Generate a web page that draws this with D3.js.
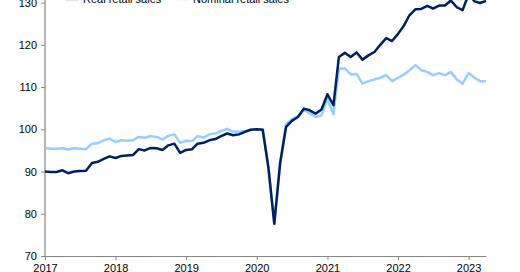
<!DOCTYPE html>
<html>
<head>
<meta charset="utf-8">
<script src="https://cdn.jsdelivr.net/npm/d3@7"></script>
<style>
  html, body { margin: 0; padding: 0; background: #fff; }
  svg { display: block; font-family: Arial, "Liberation Sans", sans-serif; }
</style>
</head>
<body>
<div id="chart"></div>
<script>
// monthly index, Jan 2017 .. Apr 2023
const startMonth = new Date(2017, 0, 1);
const endMonth = new Date(2023, 3, 1);

const realSales = [
  90.0, 89.9, 89.9, 90.3, 89.6, 90.0, 90.1, 90.2, 92.0, 92.3, 93.0, 93.6,
  93.2, 93.7, 93.8, 93.9, 95.3, 95.0, 95.6, 95.5, 95.1, 96.2, 96.6, 94.4,
  95.1, 95.3, 96.6, 96.8, 97.4, 97.7, 98.4, 99.0, 98.6, 98.8, 99.4, 99.9,
  100.0, 99.9, 91.1, 77.6, 91.9, 100.6, 102.0, 102.9, 104.9, 104.5, 103.7, 104.7,
  108.3, 105.7, 117.1, 118.1, 117.1, 118.2, 116.5, 117.5, 118.3, 120.0, 121.6, 120.9,
  122.6, 124.6, 127.0, 128.4, 128.5, 129.2, 128.6, 129.3, 129.3, 130.5, 128.9, 128.2,
  132.0, 130.3, 129.9, 130.4
];

const nominalSales = [
  95.6, 95.4, 95.4, 95.5, 95.2, 95.5, 95.4, 95.3, 96.6, 96.7, 97.4, 97.8,
  97.0, 97.4, 97.3, 97.4, 98.2, 98.0, 98.4, 98.2, 97.6, 98.45, 98.8, 96.8,
  97.3, 97.2, 98.4, 98.05, 98.8, 99.0, 99.6, 100.1, 99.4, 99.4, 99.6, 99.9,
  99.9, 100.0, 91.3, 77.8, 92.2, 101.2, 102.4, 103.0, 104.6, 103.8, 102.9, 103.3,
  107.2, 103.6, 114.4, 114.4, 113.0, 113.1, 110.8, 111.4, 111.8, 112.2, 112.8, 111.4,
  112.2, 113.0, 114.0, 115.2, 114.0, 113.6, 112.8, 113.3, 112.8, 113.6, 111.8, 110.8,
  113.3, 112.2, 111.4, 111.4
];

const seriesNames = ['Real retail sales', 'Nominal retail sales'];
const yTicks = [70, 80, 90, 100, 110, 120, 130];

const width = 520, height = 272;
const margin = { left: 45, right: 34, top: 2.6, bottom: 16 };

const months = realSales.map((d, i) => new Date(2017, i, 1));

const svg = d3.select('#chart')
  .append('svg')
  .attr('width', width)
  .attr('height', height);

const x = d3.scaleTime()
  .domain([startMonth, endMonth])
  .range([margin.left, width - margin.right]);

const y = d3.scaleLinear()
  .domain([70, 130])
  .range([height - margin.bottom, margin.top]);

const axisColor = '#868686';

// y axis
svg.append('g')
  .attr('transform', `translate(${margin.left},0)`)
  .call(d3.axisLeft(y).tickValues(yTicks).tickSize(4).tickSizeOuter(0).tickPadding(4))
  .call(g => g.select('.domain').remove())
  .call(g => g.selectAll('.tick line').attr('stroke', axisColor))
  .call(g => g.selectAll('.tick text').attr('fill', '#000').style('font-size', '11px'));

svg.append('line')
  .attr('x1', margin.left).attr('x2', margin.left)
  .attr('y1', 0).attr('y2', y(70))
  .attr('stroke', axisColor)
  .attr('stroke-width', 1.2);

// x axis
svg.append('g')
  .attr('transform', `translate(0,${y(70)})`)
  .call(d3.axisBottom(x).ticks(d3.timeYear.every(1)).tickFormat(d3.timeFormat('%Y')).tickSize(4).tickSizeOuter(0).tickPadding(4))
  .call(g => g.select('.domain').attr('stroke', axisColor).attr('stroke-width', 1.2))
  .call(g => g.selectAll('.tick line').attr('stroke', axisColor))
  .call(g => g.selectAll('.tick text').attr('fill', '#000').style('font-size', '11px'));

const line = d3.line()
  .x((d, i) => x(months[i]))
  .y(d => y(d));

svg.append('path')
  .datum(nominalSales)
  .attr('fill', 'none')
  .attr('stroke', '#99ccff')
  .attr('stroke-width', 2.5)
  .attr('stroke-linejoin', 'round')
  .attr('d', line);

svg.append('path')
  .datum(realSales)
  .attr('fill', 'none')
  .attr('stroke', '#002060')
  .attr('stroke-width', 2.5)
  .attr('stroke-linejoin', 'round')
  .attr('d', line);

// legend (cut by the top edge)
const legend = [
  { name: seriesNames[0], color: '#002060', x: 65 },
  { name: seriesNames[1], color: '#99ccff', x: 175 }
];
const lg = svg.append('g');
legend.forEach(l => {
  lg.append('line')
    .attr('x1', l.x).attr('x2', l.x + 14)
    .attr('y1', -0.9).attr('y2', -0.9)
    .attr('stroke', l.color)
    .attr('stroke-opacity', 0.35)
    .attr('stroke-width', 2.5);
  lg.append('text')
    .attr('x', l.x + 18)
    .attr('y', 3)
    .attr('fill', '#000')
    .style('font-size', '11px')
    .text(l.name);
});
</script>
</body>
</html>
